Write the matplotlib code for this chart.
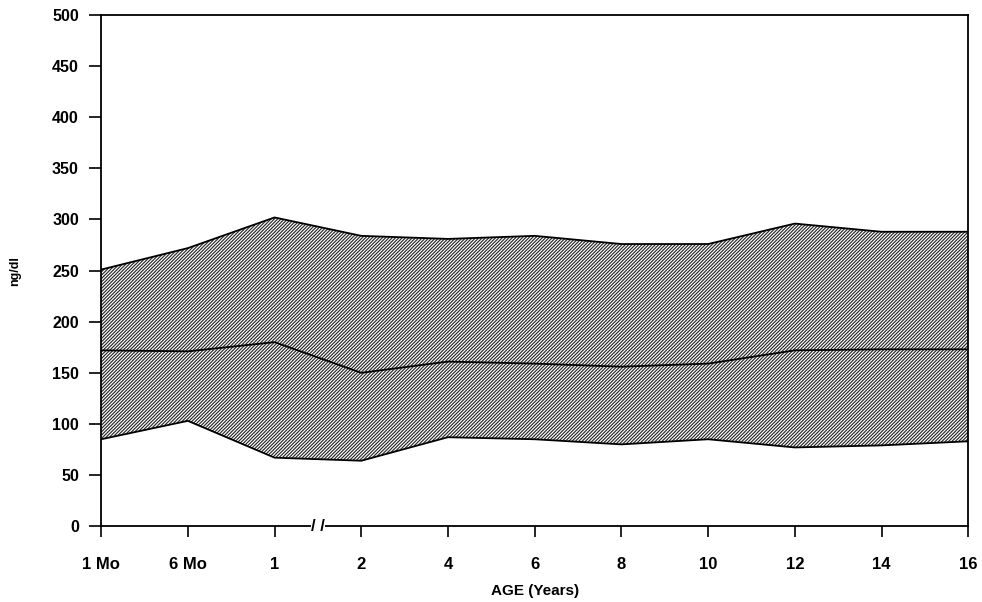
import matplotlib

matplotlib.use("Agg")
import matplotlib.pyplot as plt
import numpy as np

# normal range band (ng/dl) by age
age_labels = ["1 Mo", "6 Mo", "1", "2", "4", "6", "8", "10", "12", "14", "16"]
upper = [251, 272, 302, 284, 281, 284, 276, 276, 296, 288, 288]
median = [172, 171, 180, 150, 161, 159, 156, 159, 172, 173, 173]
lower = [85, 103, 67, 64, 87, 85, 80, 85, 77, 79, 83]

y_ticks = np.arange(0, 501, 50)

plt.rcParams["font.family"] = ["Liberation Sans", "DejaVu Sans"]
plt.rcParams["font.weight"] = "bold"
plt.rcParams["hatch.linewidth"] = 0.85

fig = plt.figure(figsize=(9.82, 6.02), dpi=100)
ax = fig.add_axes([0.103, 0.126, 0.883, 0.849])

x = np.arange(len(age_labels))
ax.fill_between(x, lower, upper, facecolor="white", edgecolor="#2a2a2a",
                hatch="//////////", linewidth=0)
ax.plot(x, upper, color="black", linewidth=1.3)
ax.plot(x, lower, color="black", linewidth=1.3)
ax.plot(x, median, color="black", linewidth=1.3)

ax.set_xlim(x[0], x[-1])
ax.set_ylim(0, 500)
ax.set_xticks(x, age_labels)
ax.set_yticks(y_ticks)

ax.tick_params(axis="x", direction="out", length=8, width=1.2, pad=14, labelsize=12)
ax.tick_params(axis="y", direction="out", length=9, width=1.2, pad=7, labelsize=11.5)
for spine in ax.spines.values():
    spine.set_linewidth(1.3)

# axis break between 1 and 2 years
ax.text((x[2] + x[3]) / 2, 0, "/ /", ha="center", va="center", fontsize=12,
        fontweight="bold", transform=ax.get_xaxis_transform(),
        bbox=dict(facecolor="white", edgecolor="none", pad=0.3), clip_on=False)

ax.set_xlabel("AGE (Years)", fontsize=11, fontweight="bold", labelpad=9)
ax.set_ylabel("ng/dl", fontsize=9, fontweight="bold", labelpad=22)

fig.savefig("out.png", dpi=100)
